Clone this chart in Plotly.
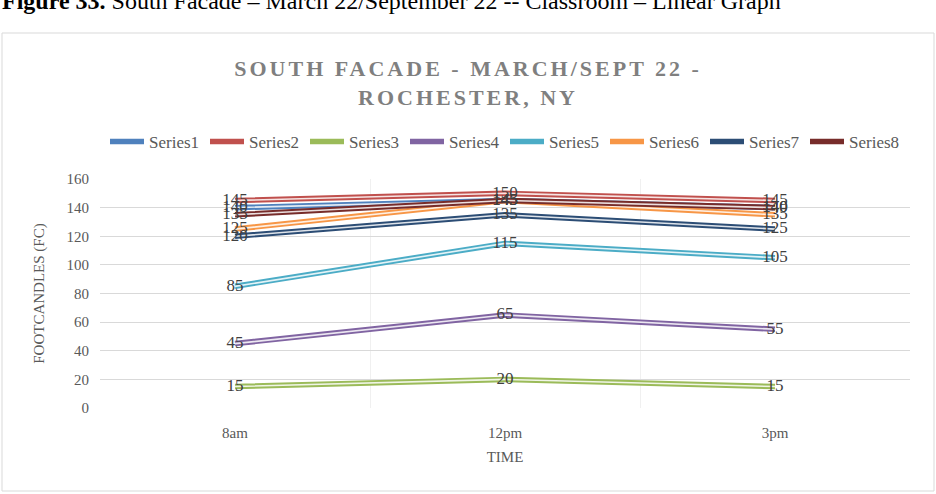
import plotly.graph_objects as go

times = ["8am", "12pm", "3pm"]
series_names = ["Series1", "Series2", "Series3", "Series4", "Series5", "Series6", "Series7", "Series8"]
s1 = [140, 145, 140]
s2 = [145, 150, 145]
s3 = [15, 20, 15]
s4 = [45, 65, 55]
s5 = [85, 115, 105]
s6 = [125, 145, 135]
s7 = [120, 135, 125]
s8 = [135, 145, 140]
series_values = [s1, s2, s3, s4, s5, s6, s7, s8]
colors = ["#4F81BD", "#C0504D", "#9BBB59", "#8064A2", "#4BACC6", "#F79646", "#2C4D75", "#772C2A"]

W, H = 936, 494
L, R, T, B = 100, 26, 179, 86
pw, ph = W - L - R, H - T - B

def px_x(x):
    return (x - L) / pw

def px_y(y):
    return (H - B - y) / ph

FONT = "Liberation Serif"
fig = go.Figure()

for name, vals, c in zip(series_names, series_values, colors):
    fig.add_trace(go.Scatter(x=times, y=vals, mode="lines", name=name,
                             line=dict(color=c, width=5.5), legendgroup=name))
    fig.add_trace(go.Scatter(x=times, y=vals, mode="lines", showlegend=False,
                             line=dict(color="rgba(255,255,255,0.85)", width=1.6),
                             legendgroup=name, hoverinfo="skip"))

for name, vals in zip(series_names, series_values):
    fig.add_trace(go.Scatter(x=times, y=vals, mode="text", text=[str(v) for v in vals],
                             textposition="middle center", showlegend=False,
                             textfont=dict(family=FONT, size=17, color="#404040")))

fig.update_layout(
    width=W, height=H,
    margin=dict(l=L, r=R, t=T, b=B),
    paper_bgcolor="white", plot_bgcolor="white",
    title=dict(text="SOUTH FACADE - MARCH/SEPT 22 -<br>ROCHESTER, NY",
               x=0.5, xanchor="center", y=1 - 76 / H, yanchor="middle",
               font=dict(family=FONT, size=22, color="#7F7F7F", weight="bold")),
    legend=dict(orientation="h", x=0.5, xanchor="center", y=px_y(142), yanchor="middle",
                font=dict(family=FONT, size=17, color="#595959"), entrywidth=51,
                itemwidth=34, traceorder="normal"),
    xaxis=dict(type="category", tickson="boundaries", range=[-0.5, 2.5], showgrid=True,
               gridcolor="#F0F0F0", ticks="", showline=False, zeroline=False,
               ticklabelstandoff=14,
               tickfont=dict(family=FONT, size=15, color="#595959"),
               title=dict(text="TIME", font=dict(family=FONT, size=15, color="#595959"), standoff=11)),
    yaxis=dict(range=[0, 160], dtick=20, showgrid=True, gridcolor="#D9D9D9", zeroline=False,
               showline=False, ticks="", ticklabelstandoff=10,
               tickfont=dict(family=FONT, size=15, color="#595959"),
               title=dict(text="FOOTCANDLES (FC)", font=dict(family=FONT, size=15, color="#595959"), standoff=18)),
    showlegend=True,
)

fig.add_shape(type="rect", xref="paper", yref="paper",
              x0=px_x(2), x1=px_x(934), y0=px_y(491), y1=px_y(33),
              line=dict(color="#D9D9D9", width=1), fillcolor="rgba(0,0,0,0)", layer="below")

fig.add_annotation(xref="paper", yref="paper", x=px_x(0), y=px_y(1), xanchor="left", yanchor="middle",
                   text="<b>Figure 33.</b> South Facade – March 22/September 22 -- Classroom – Linear Graph",
                   showarrow=False, font=dict(family=FONT, size=24, color="#000000"))

post = "document.querySelectorAll('.gtitle').forEach(function(e){e.style.letterSpacing='3px';});"
fig.write_html("out.html", post_script=post)
